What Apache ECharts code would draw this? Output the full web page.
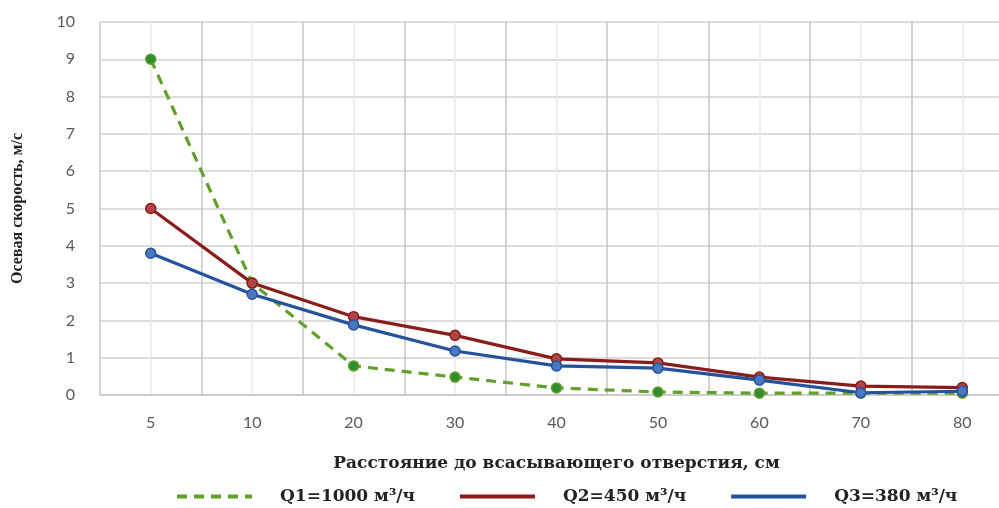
<!DOCTYPE html>
<html>
<head>
<meta charset="utf-8">
<script src="https://cdn.jsdelivr.net/npm/echarts@6/dist/echarts.min.js"></script>
<style>
  html, body { margin: 0; padding: 0; background: #fff; overflow: hidden; }
  #chart { width: 1013px; height: 508px; }
</style>
</head>
<body>
<div id="chart"></div>
<script>
// расстояние, см
const distances = ['5', '10', '20', '30', '40', '50', '60', '70', '80']
const q1 = [9.0, 3.0, 0.78, 0.48, 0.19, 0.08, 0.05, 0.05, 0.05]
const q2 = [5.0, 3.0, 2.1, 1.6, 0.97, 0.86, 0.48, 0.24, 0.2]
const q3 = [3.8, 2.7, 1.88, 1.18, 0.78, 0.72, 0.4, 0.06, 0.1]
const seriesNames = ['Q1=1000 м³/ч', 'Q2=450 м³/ч', 'Q3=380 м³/ч']

// вспомогательная ось для светлых линий по центрам категорий
const halfSteps = []
for (let i = 0; i <= distances.length * 2; i++) halfSteps.push(String(i))

const chart = echarts.init(document.getElementById('chart'))

const serif = '"DejaVu Serif", "Liberation Serif", serif'

function lineSeries(name, data, color, markerColor, dashed) {
  return {
    name: name,
    type: 'line',
    data: data,
    symbol: 'circle',
    symbolSize: 10,
    lineStyle: { color: color, width: 3.2, type: dashed ? [10, 7] : 'solid' },
    itemStyle: { color: markerColor, borderColor: color, borderWidth: 1.5 }
  }
}

chart.setOption({
  animation: false,
  grid: { left: 100, top: 22, right: 0, bottom: 113 },
  legend: {
    bottom: 3,
    left: 175,
    padding: 0,
    itemWidth: 75,
    itemHeight: 12,
    itemGap: 43,
    itemStyle: { opacity: 0 },
    lineStyle: { width: 4 },
    textStyle: {
      fontFamily: serif,
      fontWeight: 'bold',
      fontSize: 17,
      color: '#222',
      padding: [0, 0, 0, 23]
    }
  },
  xAxis: [
    {
      type: 'category',
      data: distances,
      boundaryGap: true,
      name: 'Расстояние до всасывающего отверстия, см',
      nameLocation: 'middle',
      nameGap: 60,
      nameTextStyle: { fontFamily: serif, fontWeight: 'bold', fontSize: 17, color: '#222' },
      axisLine: { lineStyle: { color: '#c8c8c8', width: 1.5 } },
      axisTick: { show: false },
      axisLabel: { fontFamily: 'Lato, sans-serif', fontSize: 16, color: '#595959', margin: 20 },
      splitLine: { show: true, lineStyle: { color: '#c6c6c6', width: 1.5 } }
    },
    {
      type: 'category',
      data: halfSteps,
      boundaryGap: false,
      show: true,
      axisLine: { show: false },
      axisTick: { show: false },
      axisLabel: { show: false },
      splitLine: {
        show: true,
        interval: (i) => i % 2 === 1,
        lineStyle: { color: '#e8e8e8', width: 1.5 }
      }
    }
  ],
  yAxis: {
    type: 'value',
    min: 0,
    max: 10,
    interval: 1,
    name: 'Осевая скорость, м/с',
    nameLocation: 'middle',
    nameGap: 74,
    nameTextStyle: { fontFamily: '"Liberation Serif", serif', fontWeight: 'bold', fontSize: 16, color: '#222' },
    axisLine: { show: false },
    axisTick: { show: false },
    axisLabel: { fontFamily: 'Lato, sans-serif', fontSize: 16, color: '#595959', margin: 25 },
    splitLine: { lineStyle: { color: '#d2d2d2', width: 1.5 } }
  },
  series: [
    lineSeries(seriesNames[0], q1, '#62a02c', '#2f8f2f', true),
    lineSeries(seriesNames[1], q2, '#8b1c1c', '#b04444', false),
    lineSeries(seriesNames[2], q3, '#24529c', '#4a78c0', false)
  ]
})
</script>
</body>
</html>
